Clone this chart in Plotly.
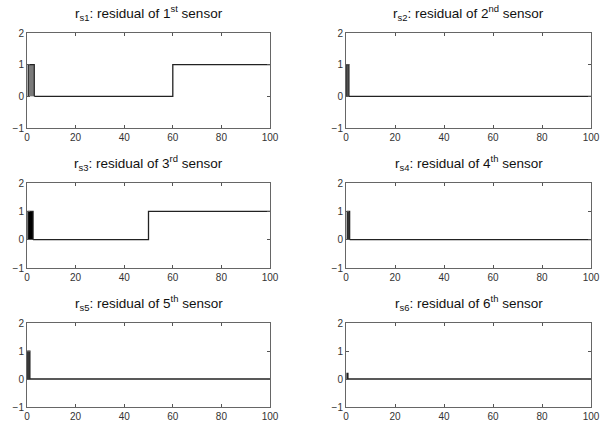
import plotly.graph_objects as go

# ---- data ----
sensor_ids = ["1", "2", "3", "4", "5", "6"]
ordinal_suffix = ["st", "nd", "rd", "th", "th", "th"]

# initial transient burst of each residual: start, end, height, fill colour
burst_start = [0.5, 0.3, 0.4, 0.5, 0.3, 0.4]
burst_end = [3.0, 1.2, 2.5, 1.5, 1.2, 0.8]
burst_height = [1.0, 1.0, 1.0, 1.0, 1.0, 0.2]
burst_fill = ["#7a7a7a", "#6a6a6a", "#000000", "#333333", "#444444", "#222222"]

# residual step signals after the transient (time, value) with step-hold
res_t = [
    [3, 60, 100],
    [1.2, 100],
    [2.5, 50, 100],
    [1.5, 100],
    [1.2, 100],
    [0.8, 100],
]
res_y = [
    [0, 1, 1],
    [0, 0],
    [0, 1, 1],
    [0, 0],
    [0, 0],
    [0, 0],
]

x_ticks = [0, 20, 40, 60, 80, 100]
y_ticks = [-1, 0, 1, 2]

# ---- layout geometry (page pixels) ----
W, H = 605, 421
col_px = [(27, 270), (346, 591)]
row_px = [(33, 128), (183, 268), (323, 407)]

fig = go.Figure()
annotations = []
for i in range(6):
    r, c = divmod(i, 2)
    ax = "" if i == 0 else str(i + 1)
    xa, ya = "x" + ax, "y" + ax
    x0, x1 = col_px[c]
    y0, y1 = row_px[r]
    common = dict(
        ticks="inside", ticklen=3, tickcolor="#555",
        showline=True, linecolor="#666", linewidth=1, mirror="ticks",
        showgrid=False, zeroline=False, automargin=False,
        tickfont=dict(family="Liberation Sans, Arial", size=10, color="#333"),
    )
    fig.update_layout(**{
        "xaxis" + ax: dict(domain=[x0 / W, x1 / W], range=[0, 100], anchor=ya,
                           tickvals=x_ticks, **common),
        "yaxis" + ax: dict(domain=[1 - y1 / H, 1 - y0 / H], range=[-1, 2], anchor=xa,
                           tickvals=y_ticks, **common),
    })
    # transient burst
    bs, be, bh = burst_start[i], burst_end[i], burst_height[i]
    fig.add_trace(go.Scatter(
        x=[bs, bs, be, be], y=[0, bh, bh, 0], xaxis=xa, yaxis=ya,
        mode="lines", fill="toself", fillcolor=burst_fill[i],
        line=dict(color="#222", width=1.2), showlegend=False, hoverinfo="skip",
    ))
    # residual signal
    fig.add_trace(go.Scatter(
        x=res_t[i], y=res_y[i], xaxis=xa, yaxis=ya, mode="lines",
        line=dict(color="#222", width=1.3, shape="hv"),
        showlegend=False,
    ))
    annotations.append(dict(
        text="r<sub>s%s</sub>: residual of %s<sup>%s</sup> sensor"
             % (sensor_ids[i], sensor_ids[i], ordinal_suffix[i]),
        x=(x0 + x1) / 2 / W, y=1 - (y0 - 20) / H, xref="paper", yref="paper",
        xanchor="center", yanchor="middle", showarrow=False,
        font=dict(family="Liberation Sans, Arial", size=13.5, color="#111"),
    ))

fig.update_layout(
    width=W, height=H, margin=dict(l=0, r=0, t=0, b=0),
    paper_bgcolor="white", plot_bgcolor="white",
    annotations=annotations, showlegend=False,
)
fig.write_html(
    "out.html",
    config={"displayModeBar": False},
    post_script="document.body.style.margin='0';document.body.style.overflow='hidden';",
)
